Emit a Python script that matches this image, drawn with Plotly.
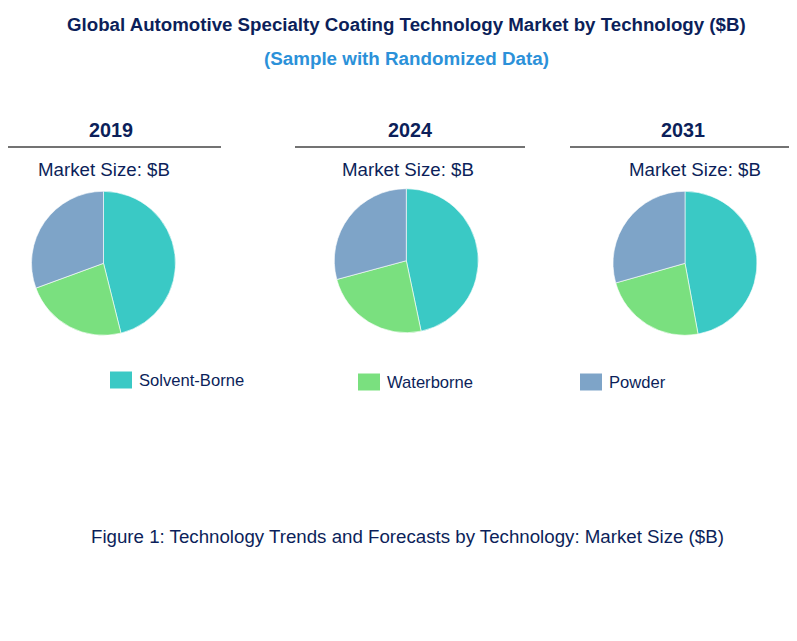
import plotly.graph_objects as go

W, H = 797, 641

years = ["2019", "2024", "2031"]
technologies = ["Solvent-Borne", "Waterborne", "Powder"]
size_2019 = [46.1, 23.3, 30.6]
size_2024 = [46.7, 24.1, 29.2]
size_2031 = [47.1, 23.5, 29.4]
colors = ["#3ac9c5", "#7ae07f", "#7ea4c8"]

NAVY = "#0c1f5a"
FONT = "Arial, Liberation Sans, sans-serif"
OFF = 8  # page body margin shifts the figure by this much


def px_x(x):
    return (x - OFF) / W


def px_y(y):
    return 1 - (y - OFF) / H


# pie centres / radius in pixels
centres = [(103.5, 263.3), (406.3, 260.7), (685.0, 263.3)]
radius = 72
values = [size_2019, size_2024, size_2031]

fig = go.Figure()
for (cx, cy), vals, yr in zip(centres, values, years):
    fig.add_trace(go.Pie(
        labels=technologies,
        values=vals,
        name=yr,
        sort=False,
        direction="clockwise",
        rotation=0,
        textinfo="none",
        hoverinfo="label+value+percent",
        marker=dict(colors=colors, line=dict(color="white", width=0.6)),
        domain=dict(x=[px_x(cx - radius), px_x(cx + radius)],
                    y=[px_y(cy + radius), px_y(cy - radius)]),
        showlegend=False,
    ))

annotations = [
    dict(text="<b>Global Automotive Specialty Coating Technology Market by Technology ($B)</b>",
         x=px_x(406), y=px_y(24), font=dict(size=18.7, color=NAVY)),
    dict(text="<b>(Sample with Randomized Data)</b>",
         x=px_x(406.5), y=px_y(58), font=dict(size=18.8, color="#2b91d9")),
    dict(text="Figure 1: Technology Trends and Forecasts by Technology: Market Size ($B)",
         x=px_x(407), y=px_y(536), font=dict(size=18.7, color=NAVY)),
]
shapes = []

heading_x = [111, 410, 683]
sub_x = [104, 408, 695]
line_spans = [(0, 221), (295, 525), (570, 805)]
for yr, hx, sx, (x0, x1) in zip(years, heading_x, sub_x, line_spans):
    annotations.append(dict(text=f"<b>{yr}</b>", x=px_x(hx), y=px_y(130),
                            font=dict(size=19.8, color=NAVY)))
    annotations.append(dict(text="Market Size: $B", x=px_x(sx), y=px_y(170),
                            font=dict(size=18.7, color=NAVY)))
    shapes.append(dict(type="line", xref="paper", yref="paper",
                       x0=px_x(x0), x1=px_x(x1), y0=px_y(147), y1=px_y(147),
                       line=dict(color="#444444", width=1.5)))

# hand-placed legend
legend_pos = [(110, 380), (358, 382), (580, 382)]
for tech, col, (lx, ly) in zip(technologies, colors, legend_pos):
    shapes.append(dict(type="rect", xref="paper", yref="paper",
                       x0=px_x(lx), x1=px_x(lx + 22),
                       y0=px_y(ly + 8.5), y1=px_y(ly - 8.5),
                       fillcolor=col, line=dict(width=0)))
    annotations.append(dict(text=tech, x=px_x(lx + 27), y=px_y(ly),
                            xanchor="left", font=dict(size=16.6, color=NAVY)))

for a in annotations:
    a.update(xref="paper", yref="paper", showarrow=False)
    a.setdefault("xanchor", "center")
    a["yanchor"] = "middle"

fig.update_layout(
    width=W, height=H,
    margin=dict(l=0, r=0, t=0, b=0),
    paper_bgcolor="white",
    plot_bgcolor="white",
    font=dict(family=FONT, color=NAVY),
    annotations=annotations,
    shapes=shapes,
)

fig.write_html("out.html")
